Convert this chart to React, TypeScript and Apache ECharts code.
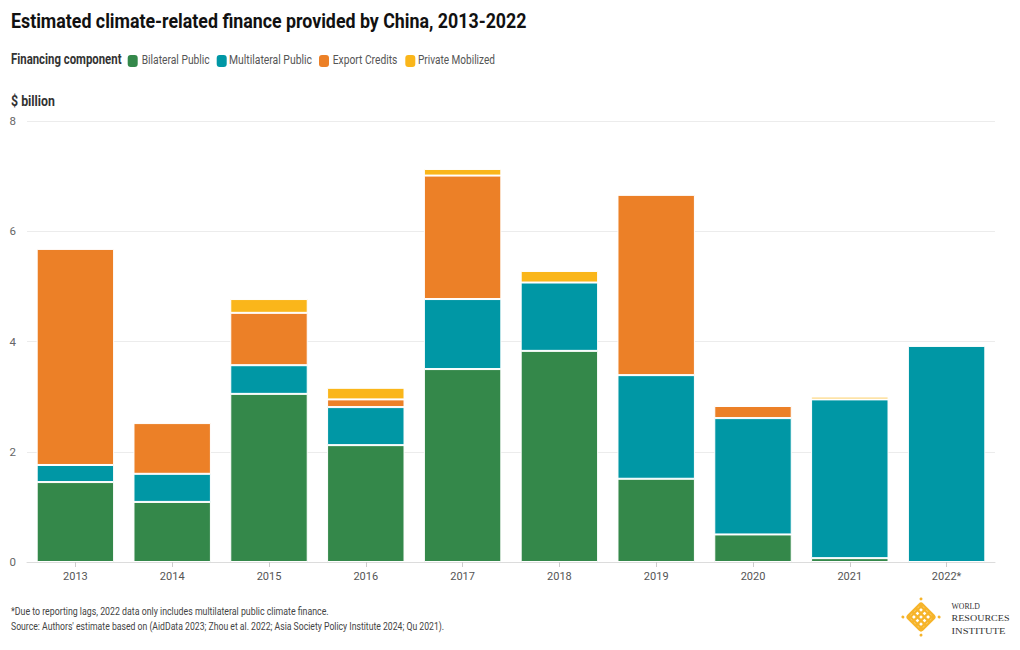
import React, { useEffect, useRef } from "react";
import * as echarts from "echarts";

const years = ["2013", "2014", "2015", "2016", "2017", "2018", "2019", "2020", "2021", "2022*"];
const bilateralPublic = [1.45, 1.09, 3.05, 2.12, 3.5, 3.83, 1.51, 0.5, 0.07, null];
const multilateralPublic = [0.31, 0.51, 0.52, 0.69, 1.27, 1.24, 1.88, 2.11, 2.88, 3.92];
const exportCredits = [3.92, 0.92, 0.95, 0.14, 2.24, null, 3.27, 0.22, null, null];
const privateMobilized = [null, null, 0.25, 0.21, 0.12, 0.21, null, null, 0.05, null];
const seriesNames = ["Bilateral Public", "Multilateral Public", "Export Credits", "Private Mobilized"];
const seriesColors = ["#34884a", "#0097a5", "#ec8027", "#fab61a"];
const yTicks = { min: 0, max: 8, interval: 2 };

const FF = "Roboto, 'Noto Sans', sans-serif";
const SERIF = "'Liberation Serif', 'DejaVu Serif', serif";

let measureCtx: CanvasRenderingContext2D | null = null;
function fit(text: string, font: string, target: number): number {
  if (!measureCtx) measureCtx = document.createElement("canvas").getContext("2d");
  if (!measureCtx) return 1;
  measureCtx.font = font;
  const w = measureCtx.measureText(text).width;
  return w > 0 ? target / w : 1;
}

function fittedText(text: string, font: string, x: number, y: number, width: number, fill: string) {
  return {
    type: "text",
    x,
    y,
    scaleX: fit(text, font, width),
    style: { text, font, fill, verticalAlign: "middle", align: "left" },
  };
}

export default function App() {
  const ref = useRef<HTMLDivElement>(null);
  useEffect(() => {
    document.body.style.margin = "0";
    const chart = echarts.init(ref.current!, null, { renderer: "svg" });
    const allSeries = [bilateralPublic, multilateralPublic, exportCredits, privateMobilized];

    const gold = "#f6b42a";
    const lattice: any[] = [];
    const offs = [-7.5, -2.5, 2.5, 7.5];
    offs.forEach((o) => {
      lattice.push({ type: "line", shape: { x1: -10, y1: o, x2: 10, y2: o }, style: { stroke: gold, lineWidth: 2.4 } });
      lattice.push({ type: "line", shape: { x1: o, y1: -10, x2: o, y2: 10 }, style: { stroke: gold, lineWidth: 2.4 } });
    });
    lattice.push({ type: "rect", shape: { x: -10, y: -10, width: 20, height: 20, r: 2 }, style: { stroke: gold, fill: "none", lineWidth: 2.4 } });
    [[-12.8, -12.8], [12.8, -12.8], [-12.8, 12.8], [12.8, 12.8]].forEach(([x, y]) => {
      lattice.push({ type: "circle", shape: { cx: x, cy: y, r: 1.5 }, style: { fill: gold } });
    });

    // legend built from series names/colours
    const legendIconX = [127.7, 216.7, 319, 405.3];
    const legendTextX = [141.7, 229, 332.7, 418];
    const legendTextW = [68, 83, 64.7, 77];
    const legendFont = `12.5px ${FF}`;
    const legendEls: any[] = [];
    seriesNames.forEach((name, i) => {
      legendEls.push({
        type: "rect",
        shape: { x: legendIconX[i], y: 55, width: 10, height: 12, r: 3 },
        style: { fill: seriesColors[i] },
      });
      legendEls.push(fittedText(name, legendFont, legendTextX[i], 60, legendTextW[i], "#555"));
    });

    chart.setOption({
      animation: false,
      textStyle: { fontFamily: FF },
      grid: { left: 27, right: 25, top: 121, bottom: 88, containLabel: false },
      xAxis: {
        type: "category",
        data: years,
        axisLine: { lineStyle: { color: "#dcdcdc" } },
        axisTick: { show: true, alignWithLabel: true, length: 5, lineStyle: { color: "#cccccc" } },
        axisLabel: { fontSize: 11, color: "#555", margin: 9, fontFamily: FF },
      },
      yAxis: {
        type: "value",
        min: yTicks.min,
        max: yTicks.max,
        interval: yTicks.interval,
        axisLine: { show: false },
        axisTick: { show: false },
        axisLabel: { fontSize: 11.5, color: "#666", margin: 11, fontFamily: FF },
        splitLine: { lineStyle: { color: "#ececec" } },
      },
      series: seriesNames.map((name, i) => ({
        name,
        type: "bar",
        stack: "total",
        barCategoryGap: "20%",
        data: allSeries[i].map((v) => (v === null ? "-" : v)),
        itemStyle: { color: seriesColors[i], borderColor: "#ffffff", borderWidth: 1 },
      })),
      graphic: [
        fittedText("Estimated climate-related finance provided by China, 2013-2022", `bold 20px ${FF}`, 11, 21.5, 516, "#111"),
        fittedText("Financing component", `bold 14px ${FF}`, 11, 59, 110.5, "#333"),
        ...legendEls,
        fittedText("$ billion", `bold 14px ${FF}`, 11, 101, 44, "#333"),
        fittedText(
          "*Due to reporting lags, 2022 data only includes multilateral public climate finance.",
          `10.5px ${FF}`, 11, 611, 318, "#444"
        ),
        fittedText(
          "Source: Authors' estimate based on (AidData 2023; Zhou et al. 2022; Asia Society Policy Institute 2024; Qu 2021).",
          `10.5px ${FF}`, 11, 626, 434, "#444"
        ),
        { type: "group", x: 921, y: 617, rotation: Math.PI / 4, children: lattice },
        fittedText("WORLD", `8.5px ${SERIF}`, 951.5, 606, 28.5, "#333"),
        fittedText("RESOURCES", `8.5px ${SERIF}`, 951.5, 618.5, 58, "#333"),
        fittedText("INSTITUTE", `8.5px ${SERIF}`, 951.5, 631, 54, "#333"),
      ],
    });
    return () => chart.dispose();
  }, []);
  return <div ref={ref} style={{ width: 1020, height: 650 }} />;
}
